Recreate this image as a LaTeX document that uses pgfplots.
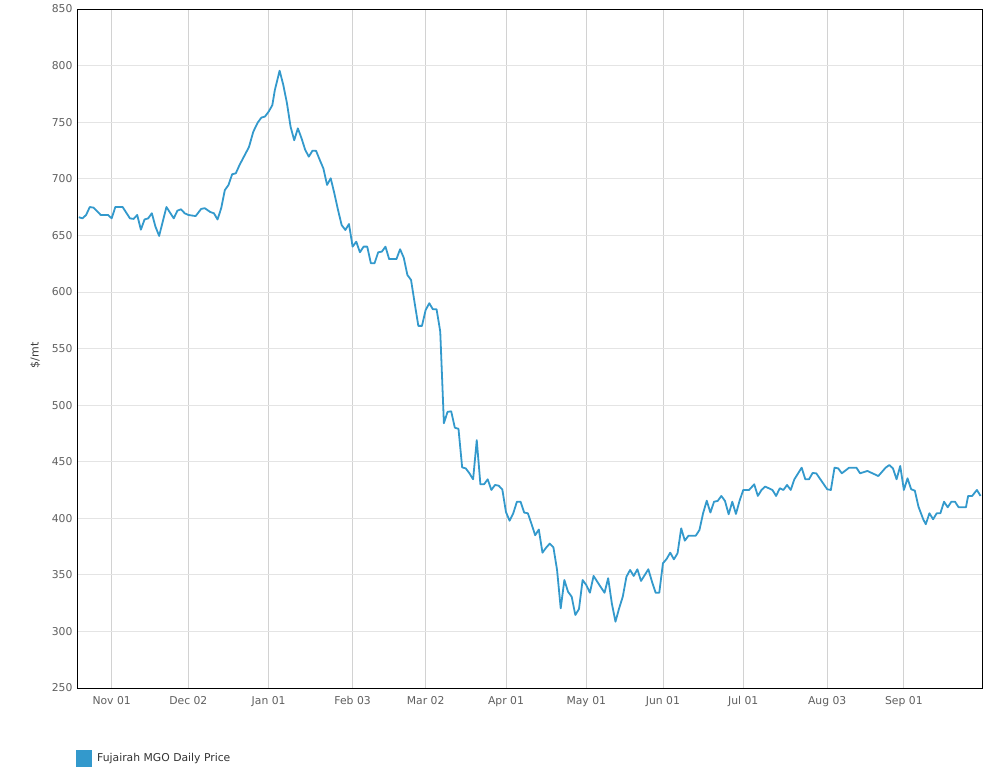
\documentclass[border=0pt]{standalone}
\usepackage{pgfplots}
\pgfplotsset{compat=1.18}
\usepackage{fontspec}
\setmainfont{DejaVu Sans}
\definecolor{linec}{RGB}{51,153,204}
\definecolor{tickc}{RGB}{95,95,95}
\definecolor{gridc}{RGB}{228,228,228}
\definecolor{vgridc}{RGB}{210,210,210}
\begin{document}
\begin{tikzpicture}
\begin{axis}[
  at={(0pt,0pt)}, anchor=south west,
  scale only axis, width=905pt, height=679pt,
  xmin=-9.5, xmax=238.4, ymin=250, ymax=850,
  xtick={0,21,43,66,86,108,130,151,173,196,217},
  xticklabels={Nov 01,Dec 02,Jan 01,Feb 03,Mar 02,Apr 01,May 01,Jun 01,Jul 01,Aug 03,Sep 01},
  ytick={250,300,...,850},
  major tick length=0pt,
  xmajorgrids, ymajorgrids,
  x grid style={vgridc, line width=0.8pt},
  y grid style={gridc, line width=0.8pt},
  axis line style={black, line width=0.8pt},
  tick label style={font=\fontsize{10.8}{12}\selectfont, text=tickc},
  xticklabel style={yshift=-5pt},
  yticklabel style={xshift=-1pt},
  /pgf/number format/assume math mode=true,
  ylabel={\$/mt},
  ylabel style={at={(axis description cs:-0.046,0.49)}, anchor=center, font=\fontsize{11}{13}\selectfont, text={rgb,255:red,60;green,60;blue,60}},
  legend style={at={(axis description cs:0,0)}, anchor=north west, yshift=-59.5pt, xshift=-4pt, draw=none, fill=none, font=\fontsize{10.8}{12}\selectfont, text={rgb,255:red,50;green,50;blue,50}},
  legend cell align=left,
]
\addplot[color=linec, line width=1.8pt, line join=round,
  legend image code/.code={\fill[linec, draw=none] (0pt,-8.5pt) rectangle (16pt,8.5pt); \path[draw=none, fill=none] (0pt,0pt) rectangle (19pt,1pt);}]
table {
x y
-9 666
-8 665
-7 668
-6 675
-5 674.5
-3 668
-1 668
0 665
1 675
3 675
5 665
6 664.5
7 668
8 655
9 664
10 665
11 669.5
12 657.6
13 649.5
15 675
17 665
18 671.8
19 673
20 669.5
21 668
23 667
24.5 673.3
25.5 674
27 670.6
28 669.5
29 664
30 674
31 690
32 694.5
33 704
34 704.8
35 712
36.3 720
37.6 728
38.8 741.6
40 749.6
41 754
42 755
43 759.3
44 765
44.7 778.4
46 795.5
47 783
48 767
49 746
50 734
51 744.5
52 735.8
53 725.6
54 719.5
55 724.8
56 724.6
57 716.6
58 709
59 694.5
60 700.4
61 687
62 672.4
63 659
64 654.7
65 660
66 640
67 644.4
68 635
69 640
70 640
71 625.3
72 625.3
73 635
74 635.6
75 640
76 629
78 629
79 637.7
80 630.3
81 615
82 610.6
83 590
84 570
85 570
86 584
87 590
88 584.6
89 584.6
90 565
91 484
92 494
93 494.5
94 480
95 479
96 445
97 444
98 439.7
99 434.4
100 469
101 430
102 430
103 434.4
104 425
105 429.4
106 428.8
107 425.5
108 405.5
109 397.8
110 404.4
111 414.6
112 414.6
113 405
114 404.4
115 395
116 385
117 390
118 369.6
119 374
120 377.6
121 374.3
122 354.3
123 320.4
124 345.4
125 335.1
126 330.7
127 314.5
128 319.8
129 345.4
130 341
131 334.2
132 349
133 344
134 339
135 334.2
136 347
137 324.8
138 308.6
139 320.4
140 330.7
141 348.3
142 354.3
143 349
144 354.9
145 344.6
147 354.9
148 344
149 334.2
150 334.2
151 360.2
152 364
153 369.6
154 363.7
155 369
156 391.1
157 380.2
158 384.6
160 384.6
161 389.6
162 404.4
163 415.5
164 405
165 414.6
166 415.3
167 419.7
168 415.3
169 403.5
170 414.6
171 403.8
172 415.5
173 425
174.6 425
176 430
177 419.7
178 425
179 428
181 425
182 419.7
183 426.5
184 425
185 429.4
186 425
187 434.4
189 444.7
190 434.4
191 434.4
192 440
193 439.7
196 425.6
197 425
198 444.7
199 444.1
200 439.7
202 444.7
204 444.7
205 439.7
207 441.8
210 437.3
212 444.7
213 447
214 444.1
215 434.4
216 446.2
217 425
218 435.3
219 425.6
220 424.4
221 410.2
222.3 399.1
223 394.7
224 404.4
225 399.1
226 404.4
227 404.4
228 414.6
229 409.7
230 414.6
231 414.6
232 409.7
234 409.7
234.6 419.7
235.7 419.7
237 425
238 419.7
};
\addlegendentry{Fujairah MGO Daily Price}
\end{axis}
\path[use as bounding box] (-77pt,-90pt) rectangle (916pt,688pt);
\end{tikzpicture}
\end{document}
